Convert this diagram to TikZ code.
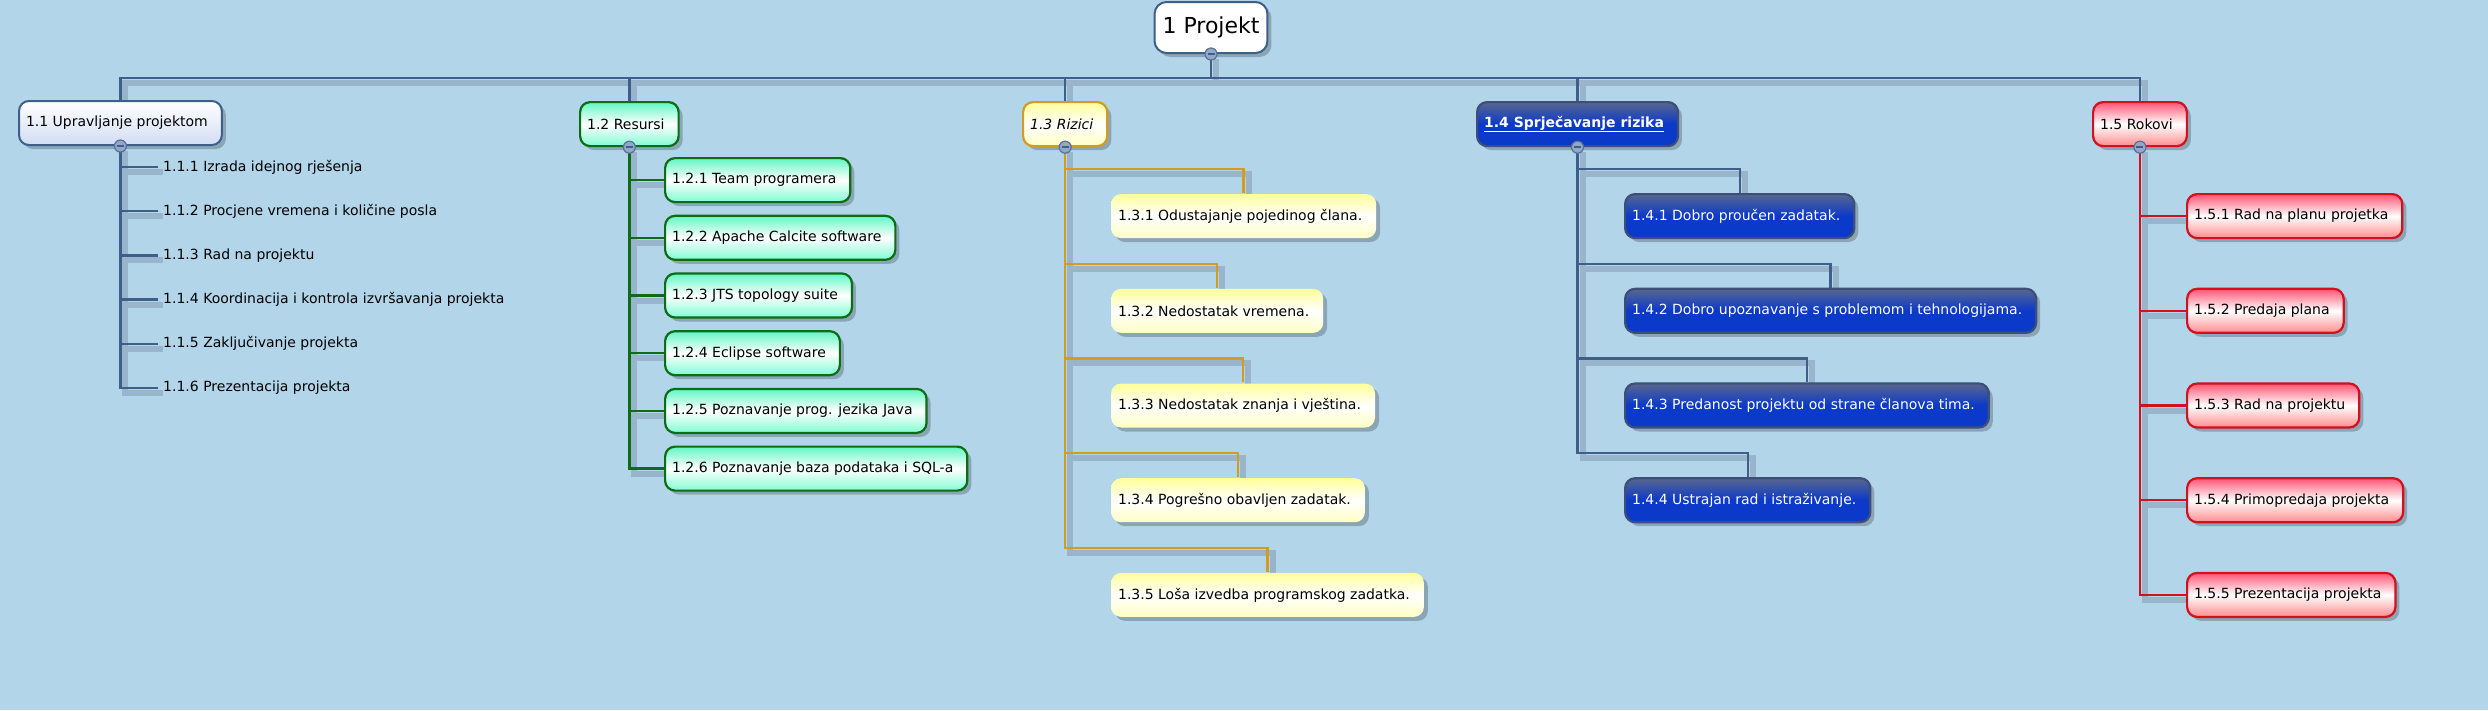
\documentclass[tikz,border=0pt]{standalone}
\usepackage{fontspec}
\setmainfont{DejaVu Sans}
\usetikzlibrary{positioning,shadows}

\definecolor{bgblue}{HTML}{B2D5EA}
\definecolor{wireblue}{HTML}{3E5F8A}
\definecolor{wireshade}{HTML}{98B5CC}
\definecolor{darkgreen}{HTML}{0E6C14}
\definecolor{mint}{HTML}{62F6C4}
\definecolor{mintlow}{HTML}{80FCD2}
\definecolor{gold}{HTML}{D49B1E}
\definecolor{cream}{HTML}{FFFF9A}
\definecolor{creamlow}{HTML}{FFFFC4}
\definecolor{darkred}{HTML}{D2101E}
\definecolor{rose}{HTML}{FF5474}
\definecolor{roselow}{HTML}{FF8C8E}
\definecolor{navytop}{HTML}{58678E}
\definecolor{royal}{HTML}{0B39C9}
\definecolor{navyline}{HTML}{3D4E78}
\definecolor{lavender}{HTML}{D2DDF4}
\definecolor{togfill}{HTML}{93A7C6}
\definecolor{togline}{HTML}{58709A}

\pgfdeclarelayer{back}
\pgfdeclarelayer{wires}
\pgfsetlayers{back,wires,main}

\tikzset{
  card/.style={rectangle, rounded corners=10pt, line width=2.2pt, minimum height=44pt,
    inner xsep=0pt, inner ysep=0pt, font=\fontsize{14pt}{17pt}\selectfont,
    execute at begin node={\hspace*{7pt}}, execute at end node={\hspace*{14pt}},
    drop shadow={shadow xshift=4pt, shadow yshift=-4pt, fill=black, opacity=.22}},
  rootbox/.style={rectangle, rounded corners=12pt, line width=2pt, draw=wireblue, fill=white,
    minimum height=51pt, inner xsep=8pt, inner ysep=0pt, font=\fontsize{22pt}{26pt}\selectfont,
    drop shadow={shadow xshift=4pt, shadow yshift=-4pt, fill=black, opacity=.22}},
  mgmt/.style={draw=wireblue, line width=2pt, top color=white, bottom color=lavender},
  res/.style={draw=darkgreen, top color=mint, bottom color=mintlow, middle color=white},
  risk/.style={draw=gold, top color=cream, bottom color=creamlow, middle color=white},
  riskleaf/.style={draw=none, top color=cream, bottom color=creamlow, middle color=white},
  prev/.style={draw=navyline, top color=navytop, bottom color=royal, middle color=royal, text=white},
  term/.style={draw=darkred, top color=rose, bottom color=roselow, middle color=white},
  plain/.style={inner xsep=5pt, anchor=west, font=\fontsize{14pt}{17pt}\selectfont},
  toggle/.style={circle, draw=togline, fill=togfill, line width=1.2pt, minimum size=12pt, inner sep=0pt,
    path picture={\draw[wireblue, line width=2pt]
      ([xshift=-3.5pt]path picture bounding box.center) -- ([xshift=3.5pt]path picture bounding box.center);}},
  wire/.style={draw=#1, line width=2.4pt,
    preaction={draw=wireshade, line width=6pt, transform canvas={shift={(5pt,-5pt)}}}},
  wire/.default=wireblue
}

\begin{document}
\begin{tikzpicture}[x=1pt,y=1pt]
  \begin{pgfonlayer}{back}
    \fill[bgblue] (0,0) rectangle (2488,-710);
  \end{pgfonlayer}
  \useasboundingbox (0,0) rectangle (2488,-710);

  \node[rootbox] (proj) at (1211,-27.5) {1 Projekt};
  \coordinate (bus) at ([yshift=-24pt]proj.south);

  \node[card, mgmt] (n1) [anchor=north west] at (18,-100) {1.1 Upravljanje projektom};
  \node[card, res] (n2) [anchor=north west] at (579,-101) {1.2 Resursi};
  \node[card, risk] (n3) [anchor=north west] at (1022,-101) {\textit{1.3 Rizici}};
  \node[card, prev] (n4) [anchor=north west] at (1476,-101) {\underline{\textbf{1.4 Sprječavanje rizika}}};
  \node[card, term] (n5) [anchor=north west] at (2092,-101) {1.5 Rokovi};

  % 1.1
  \node[plain] (n11) at (158,-167) {1.1.1 Izrada idejnog rješenja};
  \node[plain] (n12) [below=44.2pt of n11.west, anchor=west] {1.1.2 Procjene vremena i količine posla};
  \node[plain] (n13) [below=44.2pt of n12.west, anchor=west] {1.1.3 Rad na projektu};
  \node[plain] (n14) [below=44.2pt of n13.west, anchor=west] {1.1.4 Koordinacija i kontrola izvršavanja projekta};
  \node[plain] (n15) [below=44.2pt of n14.west, anchor=west] {1.1.5 Zaključivanje projekta};
  \node[plain] (n16) [below=44.2pt of n15.west, anchor=west] {1.1.6 Prezentacija projekta};

  % 1.2
  \node[card, res] (n21) [anchor=north west] at (664,-157) {1.2.1 Team programera};
  \node[card, res] (n22) [below=11.5pt of n21.south west, anchor=north west] {1.2.2 Apache Calcite software};
  \node[card, res] (n23) [below=11.5pt of n22.south west, anchor=north west] {1.2.3 JTS topology suite};
  \node[card, res] (n24) [below=11.5pt of n23.south west, anchor=north west] {1.2.4 Eclipse software};
  \node[card, res] (n25) [below=11.5pt of n24.south west, anchor=north west] {1.2.5 Poznavanje prog. jezika Java};
  \node[card, res] (n26) [below=11.5pt of n25.south west, anchor=north west] {1.2.6 Poznavanje baza podataka i SQL-a};

  % 1.3
  \node[card, riskleaf] (n31) [anchor=north west] at (1110,-193) {1.3.1 Odustajanje pojedinog člana.};
  \node[card, riskleaf] (n32) [below=48.5pt of n31.south west, anchor=north west] {1.3.2 Nedostatak vremena.};
  \node[card, riskleaf] (n33) [below=48.5pt of n32.south west, anchor=north west] {1.3.3 Nedostatak znanja i vještina.};
  \node[card, riskleaf] (n34) [below=48.5pt of n33.south west, anchor=north west] {1.3.4 Pogrešno obavljen zadatak.};
  \node[card, riskleaf] (n35) [below=48.5pt of n34.south west, anchor=north west] {1.3.5 Loša izvedba programskog zadatka.};

  % 1.4
  \node[card, prev] (n41) [anchor=north west] at (1624,-193) {1.4.1 Dobro proučen zadatak.};
  \node[card, prev] (n42) [below=48.5pt of n41.south west, anchor=north west] {1.4.2 Dobro upoznavanje s problemom i tehnologijama.};
  \node[card, prev] (n43) [below=48.5pt of n42.south west, anchor=north west] {1.4.3 Predanost projektu od strane članova tima.};
  \node[card, prev] (n44) [below=48.5pt of n43.south west, anchor=north west] {1.4.4 Ustrajan rad i istraživanje.};

  % 1.5
  \node[card, term] (n51) [anchor=north west] at (2186,-193) {1.5.1 Rad na planu projetka};
  \node[card, term] (n52) [below=48.5pt of n51.south west, anchor=north west] {1.5.2 Predaja plana};
  \node[card, term] (n53) [below=48.5pt of n52.south west, anchor=north west] {1.5.3 Rad na projektu};
  \node[card, term] (n54) [below=48.5pt of n53.south west, anchor=north west] {1.5.4 Primopredaja projekta};
  \node[card, term] (n55) [below=48.5pt of n54.south west, anchor=north west] {1.5.5 Prezentacija projekta};

  \begin{pgfonlayer}{wires}
    \draw[wire] (proj.south) -- (bus);
    \draw[wire] (bus) -| (n1.north);
    \draw[wire] (bus) -| (n2.north);
    \draw[wire] (bus) -| (n5.north);
    \draw[wire] (bus) -| (n4.north);
    \draw[wire] (bus) -| (n3.north);

    \draw[wire] (n1.south) |- (n16.west);
    \draw[wire] (n1.south) |- (n15.west);
    \draw[wire] (n1.south) |- (n14.west);
    \draw[wire] (n1.south) |- (n13.west);
    \draw[wire] (n1.south) |- (n12.west);
    \draw[wire] (n1.south) |- (n11.west);

    \draw[wire=darkgreen] (n2.south) |- (n26.west);
    \draw[wire=darkgreen] (n2.south) |- (n25.west);
    \draw[wire=darkgreen] (n2.south) |- (n24.west);
    \draw[wire=darkgreen] (n2.south) |- (n23.west);
    \draw[wire=darkgreen] (n2.south) |- (n22.west);
    \draw[wire=darkgreen] (n2.south) |- (n21.west);

    \draw[wire=gold] (n3.south) |- ([yshift=24pt]n35.north) -- (n35.north);
    \draw[wire=gold] (n3.south) |- ([yshift=24pt]n34.north) -- (n34.north);
    \draw[wire=gold] (n3.south) |- ([yshift=24pt]n33.north) -- (n33.north);
    \draw[wire=gold] (n3.south) |- ([yshift=24pt]n32.north) -- (n32.north);
    \draw[wire=gold] (n3.south) |- ([yshift=24pt]n31.north) -- (n31.north);

    \draw[wire] (n4.south) |- ([yshift=24pt]n44.north) -- (n44.north);
    \draw[wire] (n4.south) |- ([yshift=24pt]n43.north) -- (n43.north);
    \draw[wire] (n4.south) |- ([yshift=24pt]n42.north) -- (n42.north);
    \draw[wire] (n4.south) |- ([yshift=24pt]n41.north) -- (n41.north);

    \draw[wire=darkred] (n5.south) |- (n55.west);
    \draw[wire=darkred] (n5.south) |- (n54.west);
    \draw[wire=darkred] (n5.south) |- (n53.west);
    \draw[wire=darkred] (n5.south) |- (n52.west);
    \draw[wire=darkred] (n5.south) |- (n51.west);
  \end{pgfonlayer}

  \node[toggle] (t0) at (proj.south) {};
  \node[toggle] (t1) at (n1.south) {};
  \node[toggle] (t2) at (n2.south) {};
  \node[toggle] (t3) at (n3.south) {};
  \node[toggle] (t4) at (n4.south) {};
  \node[toggle] (t5) at (n5.south) {};
\end{tikzpicture}
\end{document}
